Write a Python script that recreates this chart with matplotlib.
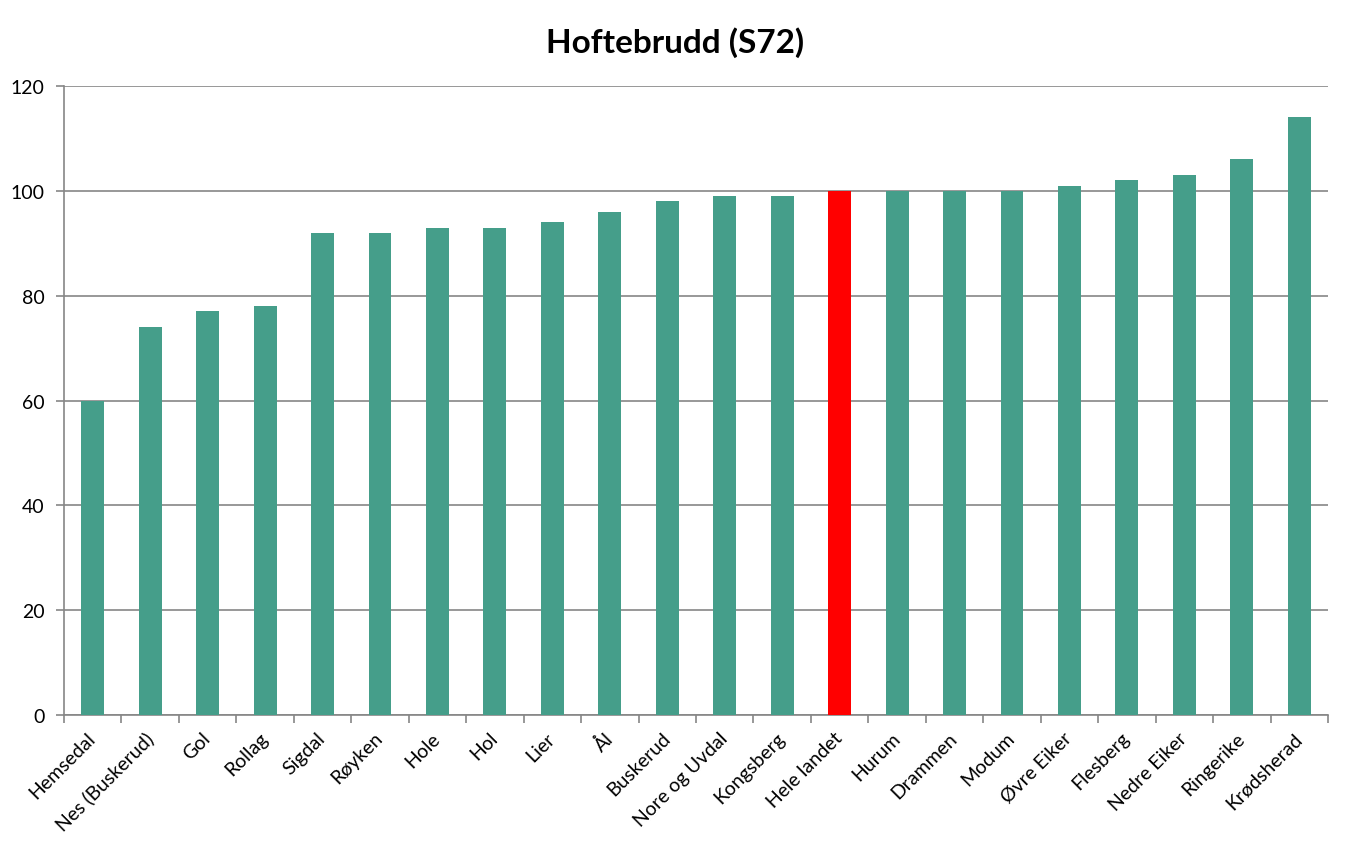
import numpy as np
import matplotlib
matplotlib.use('Agg')
import matplotlib.pyplot as plt
import matplotlib.transforms as mtrans

# data
kommuner = ['Hemsedal', 'Nes (Buskerud)', 'Gol', 'Rollag', 'Sigdal', 'Røyken',
            'Hole', 'Hol', 'Lier', 'Ål', 'Buskerud', 'Nore og Uvdal',
            'Kongsberg', 'Hele landet', 'Hurum', 'Drammen', 'Modum',
            'Øvre Eiker', 'Flesberg', 'Nedre Eiker', 'Ringerike', 'Krødsherad']
verdier = [60, 74, 77, 78, 92, 92, 93, 93, 94, 96, 98, 99, 99, 100, 100,
           100, 100, 101, 102, 103, 106, 114]
yticks = [0, 20, 40, 60, 80, 100, 120]

TEAL = '#459E8A'
RED = '#FF0000'
GRID = '#868686'

plt.rcParams['font.family'] = ['Lato', 'DejaVu Sans']

fig = plt.figure(figsize=(13.5, 8.53), dpi=100)
ax = fig.add_axes([0.0474, 0.1606, 0.9363, 0.7374])

x = np.arange(len(kommuner))
colors = [RED if k == 'Hele landet' else TEAL for k in kommuner]
ax.bar(x, verdier, width=0.4, color=colors, zorder=3)

ax.set_xlim(-0.5, len(kommuner) - 0.5)
ax.set_ylim(0, 120)
ax.set_yticks(yticks)
ax.yaxis.grid(True, color=GRID, linewidth=1.2, zorder=0)

ax.set_xticks(x)
ax.set_xticklabels(kommuner, rotation=45, ha='right', rotation_mode='anchor',
                   fontsize=14)
ax.tick_params(axis='x', which='major', length=0, pad=10)
ax.set_xticks(np.arange(-0.5, len(kommuner), 1), minor=True)
ax.tick_params(axis='x', which='minor', length=6, color=GRID, width=1.2)
ax.tick_params(axis='y', length=6, color=GRID, width=1.2, labelsize=14, pad=8)

# nudge the rotated labels a little to the left
offset = mtrans.ScaledTranslation(-6 / 100, 0, fig.dpi_scale_trans)
for lab in ax.get_xticklabels():
    lab.set_transform(lab.get_transform() + offset)

for s in ['top', 'right']:
    ax.spines[s].set_visible(False)
for s in ['left', 'bottom']:
    ax.spines[s].set_color(GRID)
    ax.spines[s].set_linewidth(1.2)

fig.suptitle('Hoftebrudd (S72)', fontsize=24, fontweight='bold', y=0.968)

fig.savefig('out.png', dpi=100)
